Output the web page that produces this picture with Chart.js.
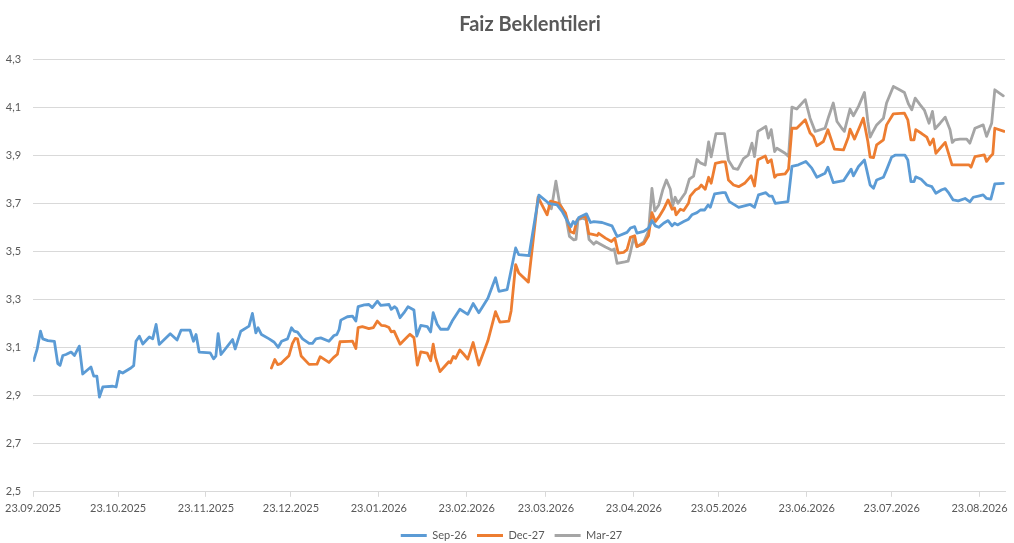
<!DOCTYPE html>
<html>
<head>
<meta charset="utf-8">
<script src="https://cdn.jsdelivr.net/npm/chart.js@4.4.1/dist/chart.umd.min.js"></script>
<style>
  html, body { margin: 0; padding: 0; background: #ffffff; }
  #wrap { width: 1014px; height: 543px; position: relative; }
</style>
</head>
<body>
<div id="wrap"><canvas id="c"></canvas></div>
<script>
// Day offsets counted from 23.09.2025
const chartTitle = 'Faiz Beklentileri';
const seriesNames = ['Sep-26', 'Dec-27', 'Mar-27'];
const tickDays = [0, 30, 61, 91, 122, 153, 181, 212, 242, 273, 303, 334];
const tickLabels = ['23.09.2025', '23.10.2025', '23.11.2025', '23.12.2025', '23.01.2026', '23.02.2026',
  '23.03.2026', '23.04.2026', '23.05.2026', '23.06.2026', '23.07.2026', '23.08.2026'];

const sepDays = [0.2, 1.4, 2.6, 3.4, 5.2, 7.5, 8.7, 9.5, 10.5, 11.6, 13.4, 14.6, 16.3, 17.5, 20.4, 21.4, 22.5, 23.4, 24.6,
  28.1, 29.3, 30.4, 31.6, 34.5, 35.5, 36.3, 37.5, 38.7, 41.0, 42.2, 43.4, 44.5, 46.3, 48.4, 50.8, 52.2, 55.4, 56.6,
  57.5, 58.6, 62.5, 63.7, 64.5, 65.3, 66.3, 70.4, 71.3, 73.3, 76.2, 77.4, 78.6, 79.4, 80.6, 83.3, 85.1, 86.5, 87.7,
  89.8, 91.2, 92.1, 93.3, 95.1, 97.4, 98.6, 99.8, 101.5, 104.4, 106.2, 107.2, 108.0, 108.6, 110.9, 112.7, 113.9,
  114.7, 116.9, 118.5, 119.7, 121.5, 122.7, 125.6, 126.4, 127.6, 128.3, 129.5, 130.9, 132.3, 134.4, 135.4, 136.8,
  139.1, 140.3, 141.2, 142.6, 143.8, 146.4, 147.9, 150.6, 153.4, 155.3, 157.3, 160.5, 163.2, 164.4, 167.3, 170.3,
  171.4, 175.0, 178.5, 182.0, 184.9, 186.7, 189.0, 189.8, 190.6, 191.4, 192.6, 195.3, 196.7, 197.9, 200.8, 204.3,
  206.1, 209.6, 210.8, 212.3, 213.1, 215.5, 217.2, 218.4, 219.6, 220.8, 222.5, 224.1, 225.5, 226.4, 227.4, 229.6,
  231.3, 232.5, 234.3, 235.5, 237.0, 238.2, 239.0, 240.5, 243.3, 244.3, 245.7, 249.0, 250.7, 253.1, 254.6, 256.0,
  258.6, 259.8, 260.8, 261.9, 266.4, 267.8, 270.1, 272.7, 274.8, 276.6, 279.5, 280.5, 282.4, 286.0, 288.7, 289.5,
  291.3, 293.4, 294.2, 295.4, 296.6, 297.7, 300.1, 301.2, 303.0, 304.2, 307.7, 308.7, 309.8, 310.9, 311.5, 313.4,
  315.4, 317.2, 318.6, 320.7, 321.9, 323.2, 324.7, 326.5, 328.9, 330.6, 331.8, 333.6, 335.3, 336.5, 338.0, 339.4, 342.4];
const sepValues = [3.046, 3.092, 3.168, 3.136, 3.129, 3.126, 3.033, 3.026, 3.067, 3.071, 3.081, 3.067, 3.106, 2.99, 3.019,
  2.981, 2.981, 2.894, 2.936, 2.939, 2.936, 3.001, 2.994, 3.015, 3.025, 3.126, 3.147, 3.115, 3.144, 3.136, 3.196, 3.113,
  3.133, 3.157, 3.131, 3.172, 3.172, 3.126, 3.154, 3.081, 3.078, 3.053, 3.064, 3.158, 3.071, 3.133, 3.094, 3.168, 3.189,
  3.242, 3.161, 3.182, 3.154, 3.136, 3.122, 3.101, 3.126, 3.136, 3.182, 3.168, 3.164, 3.136, 3.117, 3.117, 3.136, 3.14,
  3.126, 3.15, 3.154, 3.175, 3.214, 3.228, 3.231, 3.21, 3.27, 3.277, 3.279, 3.266, 3.293, 3.275, 3.279, 3.259, 3.27,
  3.262, 3.224, 3.245, 3.27, 3.256, 3.148, 3.192, 3.187, 3.165, 3.245, 3.197, 3.176, 3.176, 3.21, 3.259, 3.238, 3.283,
  3.245, 3.305, 3.39, 3.334, 3.341, 3.514, 3.486, 3.482, 3.734, 3.70, 3.693, 3.666, 3.617, 3.603, 3.624, 3.614, 3.641,
  3.656, 3.62, 3.624, 3.62, 3.606, 3.562, 3.579, 3.597, 3.603, 3.576, 3.583, 3.597, 3.628, 3.606, 3.60, 3.617, 3.628,
  3.606, 3.617, 3.61, 3.624, 3.634, 3.652, 3.661, 3.672, 3.672, 3.693, 3.683, 3.739, 3.744, 3.744, 3.707, 3.683, 3.688,
  3.695, 3.683, 3.735, 3.744, 3.73, 3.73, 3.70, 3.707, 3.853, 3.86, 3.874, 3.846, 3.808, 3.825, 3.85, 3.786, 3.794,
  3.842, 3.814, 3.853, 3.88, 3.839, 3.776, 3.762, 3.797, 3.808, 3.839, 3.892, 3.90, 3.90, 3.88, 3.79, 3.79, 3.81, 3.80,
  3.776, 3.769, 3.742, 3.756, 3.761, 3.742, 3.714, 3.71, 3.72, 3.706, 3.725, 3.73, 3.735, 3.72, 3.717, 3.781, 3.783];

const decDays = [84.1, 85.3, 86.3, 87.4, 88.6, 90.3, 91.5, 92.5, 93.3, 94.6, 97.4, 100.2, 101.3, 104.4, 106.0, 107.4,
  108.3, 111.5, 112.7, 113.9, 114.7, 116.2, 118.5, 120.1, 121.5, 122.9, 124.4, 125.6, 126.4, 127.4, 129.5, 132.1, 133.0,
  134.4, 135.6, 136.8, 139.1, 140.3, 141.2, 142.0, 143.6, 145.2, 146.7, 147.3, 148.3, 149.1, 150.6, 152.0, 153.4, 155.3,
  157.3, 160.5, 163.2, 164.7, 167.9, 168.7, 170.3, 171.4, 174.8, 178.2, 181.4, 182.6, 185.5, 187.9, 189.6, 190.8, 192.0,
  193.8, 195.0, 196.1, 197.5, 199.1, 199.6, 202.0, 204.1, 205.3, 206.5, 208.4, 209.6, 210.8, 212.3, 213.1, 215.5, 217.2,
  218.4, 219.6, 220.8, 222.5, 224.1, 225.5, 226.4, 226.9, 228.4, 229.6, 231.3, 231.9, 233.7, 234.9, 235.8, 237.2, 238.4,
  239.3, 240.8, 243.1, 244.3, 245.4, 247.2, 249.0, 251.1, 253.4, 254.6, 255.8, 258.4, 259.3, 260.5, 261.7, 262.5, 265.4,
  266.6, 267.8, 269.5, 272.5, 274.2, 275.4, 276.6, 278.9, 280.5, 282.8, 286.0, 287.7, 288.3, 289.9, 293.0, 294.6, 295.4,
  296.6, 297.7, 300.1, 301.2, 303.6, 307.5, 308.7, 309.8, 310.9, 311.5, 313.6, 315.4, 316.5, 317.7, 318.6, 321.9, 324.3,
  328.9, 330.3, 331.0, 332.4, 335.7, 336.5, 338.0, 338.7, 339.4, 342.7];
const decValues = [3.015, 3.05, 3.029, 3.033, 3.047, 3.066, 3.116, 3.138, 3.136, 3.065, 3.03, 3.031, 3.062, 3.038, 3.058,
  3.072, 3.124, 3.126, 3.127, 3.096, 3.183, 3.187, 3.179, 3.183, 3.21, 3.192, 3.19, 3.183, 3.165, 3.168, 3.114, 3.145,
  3.155, 3.141, 3.027, 3.082, 3.077, 3.045, 3.114, 3.059, 3.0, 3.021, 3.041, 3.036, 3.063, 3.055, 3.09, 3.072, 3.052,
  3.121, 3.027, 3.128, 3.249, 3.206, 3.21, 3.252, 3.445, 3.41, 3.372, 3.725, 3.652, 3.709, 3.70, 3.659, 3.583, 3.576,
  3.631, 3.645, 3.645, 3.574, 3.571, 3.566, 3.575, 3.555, 3.541, 3.555, 3.493, 3.496, 3.507, 3.558, 3.565, 3.52, 3.532,
  3.565, 3.661, 3.624, 3.642, 3.675, 3.714, 3.675, 3.68, 3.652, 3.675, 3.67, 3.70, 3.73, 3.755, 3.762, 3.776, 3.758,
  3.808, 3.783, 3.866, 3.872, 3.872, 3.797, 3.776, 3.769, 3.783, 3.814, 3.772, 3.881, 3.897, 3.869, 3.881, 3.808, 3.818,
  3.822, 3.842, 4.012, 4.012, 4.047, 3.992, 3.978, 3.939, 3.957, 4.006, 3.925, 3.922, 3.975, 4.008, 3.967, 4.054, 3.957,
  3.892, 3.89, 3.943, 3.964, 4.026, 4.072, 4.075, 4.047, 3.964, 3.964, 4.006, 3.99, 3.975, 3.943, 3.967, 3.908, 3.953,
  3.86, 3.86, 3.86, 3.85, 3.894, 3.901, 3.874, 3.897, 3.905, 4.012, 3.999];

const marDays = [181.8, 182.9, 184.5, 185.8, 187.9, 189.3, 190.8, 191.6, 192.3, 194.0, 195.2, 196.2, 197.9, 198.7, 199.9,
  202.0, 204.3, 205.1, 206.1, 208.8, 210.0, 210.8, 212.0, 213.1, 215.5, 217.2, 218.4, 219.4, 220.8, 222.2, 223.5, 224.9,
  225.7, 226.6, 227.6, 230.2, 231.6, 233.1, 234.3, 235.5, 237.2, 238.4, 239.3, 241.0, 244.0, 245.4, 247.2, 248.7, 250.7,
  252.4, 253.7, 254.6, 255.8, 258.6, 259.5, 260.5, 261.7, 262.5, 265.4, 266.6, 267.8, 269.5, 272.5, 274.2, 276.0, 279.5,
  280.7, 282.4, 283.7, 285.4, 286.3, 288.3, 289.5, 291.3, 293.4, 294.6, 295.4, 296.2, 297.7, 300.1, 301.2, 303.6, 305.3,
  307.5, 308.9, 310.1, 311.3, 313.0, 314.6, 316.2, 317.4, 318.3, 320.1, 321.9, 323.6, 324.4, 325.3, 327.1, 329.5, 330.6,
  332.4, 335.3, 336.5, 338.3, 339.4, 342.4];
const marValues = [3.70, 3.677, 3.792, 3.70, 3.652, 3.562, 3.548, 3.55, 3.632, 3.638, 3.631, 3.549, 3.53, 3.54, 3.532,
  3.518, 3.505, 3.51, 3.45, 3.456, 3.459, 3.496, 3.56, 3.519, 3.539, 3.585, 3.762, 3.668, 3.693, 3.755, 3.797, 3.758,
  3.689, 3.725, 3.70, 3.744, 3.80, 3.813, 3.882, 3.868, 3.859, 3.955, 3.893, 3.99, 3.99, 3.879, 3.845, 3.841, 3.886,
  3.90, 3.95, 3.894, 3.999, 4.019, 3.971, 4.006, 3.915, 3.929, 3.908, 3.894, 4.10, 4.092, 4.131, 4.054, 3.999, 4.012,
  4.058, 4.117, 4.04, 4.012, 3.999, 4.092, 4.064, 4.103, 4.161, 4.04, 3.975, 3.994, 4.026, 4.054, 4.117, 4.186, 4.175,
  4.161, 4.114, 4.089, 4.137, 4.11, 4.086, 4.033, 4.082, 4.01, 4.033, 4.058, 4.006, 3.953, 3.964, 3.967, 3.967, 3.95,
  4.012, 4.026, 3.978, 4.033, 4.172, 4.147];

const colors = ['#5B9BD5', '#ED7D31', '#A5A5A5'];
const textColor = '#595959';
const gridColor = '#D9D9D9';
const fontFamily = 'Lato, "Open Sans", "Liberation Sans", sans-serif';

function toPoints(days, values) {
  return days.map((d, i) => ({ x: d, y: values[i] }));
}

const titlePlugin = {
  id: 'customTitle',
  afterLayout(chart) {
    // centre the legend like the original (slightly right of canvas centre)
    if (chart.legend) {
      chart.legend.left += 9;
      chart.legend.right += 9;
    }
  },
  afterDraw(chart) {
    const ctx = chart.ctx;
    ctx.save();
    ctx.font = 'bold 20px ' + fontFamily;
    ctx.fillStyle = textColor;
    ctx.textAlign = 'center';
    ctx.textBaseline = 'middle';
    ctx.fillText(chartTitle, 530, 25);
    ctx.restore();
  }
};

const datasets = [
  [sepDays, sepValues], [decDays, decValues], [marDays, marValues]
].map((s, i) => ({
  label: seriesNames[i],
  data: toPoints(s[0], s[1]),
  borderColor: colors[i],
  backgroundColor: colors[i],
  borderWidth: 2.8,
  pointRadius: 0,
  pointHoverRadius: 0,
  tension: 0,
  borderJoinStyle: 'round',
  borderCapStyle: 'round',
  fill: false
}));

new Chart(document.getElementById('c'), {
  type: 'line',
  data: { datasets },
  plugins: [titlePlugin],
  options: {
    responsive: true,
    maintainAspectRatio: false,
    animation: false,
    layout: { padding: { top: 59, right: 9, left: 0, bottom: -8 } },
    plugins: {
      title: { display: false },
      tooltip: { enabled: false },
      legend: {
        display: true,
        position: 'bottom',
        labels: {
          color: textColor,
          font: { family: fontFamily, size: 11 },
          boxWidth: 26,
          boxHeight: 3,
          padding: 10,
          generateLabels(chart) {
            return chart.data.datasets.map((ds, i) => ({
              text: ds.label,
              fillStyle: ds.borderColor,
              strokeStyle: ds.borderColor,
              lineWidth: 0,
              hidden: false,
              datasetIndex: i,
              fontColor: textColor
            }));
          }
        }
      }
    },
    scales: {
      x: {
        type: 'linear',
        min: 0,
        max: 343,
        afterBuildTicks(scale) {
          scale.ticks = tickDays.map(v => ({ value: v }));
        },
        ticks: {
          color: textColor,
          font: { family: fontFamily, size: 11 },
          padding: 5,
          maxRotation: 0,
          autoSkip: false,
          callback(value) {
            const idx = tickDays.indexOf(value);
            return idx >= 0 ? tickLabels[idx] : '';
          }
        },
        grid: {
          display: true,
          drawOnChartArea: false,
          drawTicks: true,
          tickLength: 5,
          color: gridColor
        },
        border: { display: true, color: gridColor, width: 1 }
      },
      y: {
        min: 2.5,
        max: 4.3,
        afterFit(scale) { scale.width = 32; },
        ticks: {
          stepSize: 0.2,
          color: textColor,
          font: { family: fontFamily, size: 11 },
          padding: 12,
          callback(value) { return value.toFixed(1).replace('.', ','); }
        },
        grid: { color: gridColor, drawTicks: false, lineWidth: 1 },
        border: { display: false }
      }
    }
  }
});
</script>
</body>
</html>
